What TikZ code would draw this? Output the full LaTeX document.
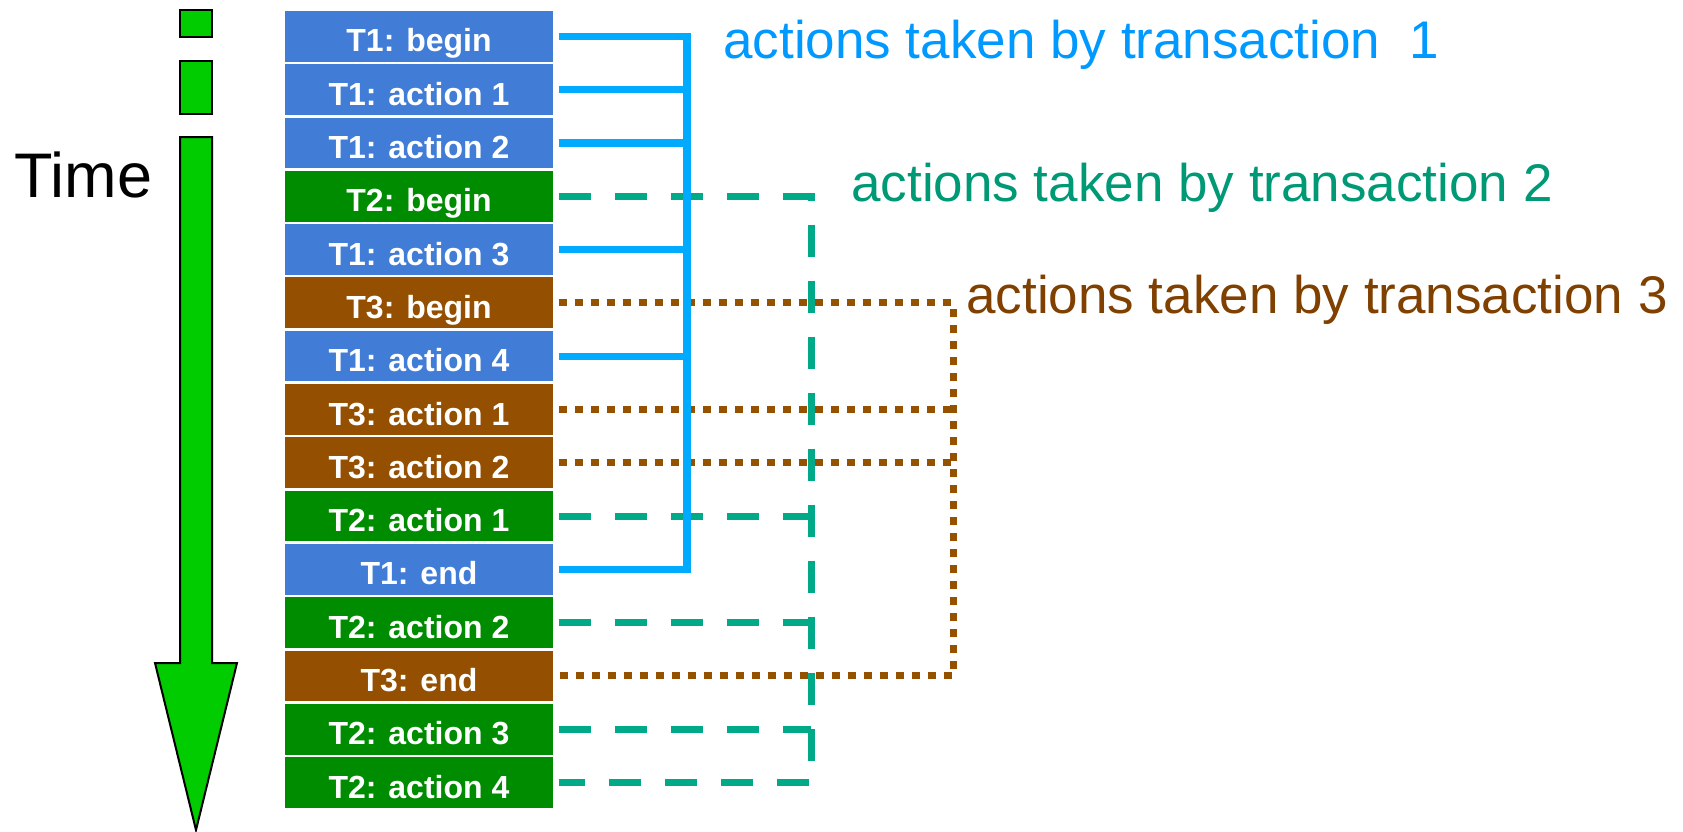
\documentclass[tikz,border=0pt]{standalone}
\usepackage{fontspec}
\setmainfont{Liberation Sans}
\usepackage{xcolor}
\usepackage{tikz}
\usetikzlibrary{calc, positioning}

\definecolor{BoxBlue}{HTML}{417CD6}
\definecolor{BoxGreen}{HTML}{008C00}
\definecolor{BoxBrown}{HTML}{945000}
\definecolor{LineBlue}{HTML}{00AAFF}
\definecolor{LineTeal}{HTML}{00AA88}
\definecolor{LineBrown}{HTML}{945200}
\definecolor{TextBlue}{HTML}{0099FF}
\definecolor{TextTeal}{HTML}{009975}
\definecolor{TextBrown}{HTML}{804000}
\definecolor{TimeGreen}{HTML}{00CC00}

\tikzset{
    actbox/.style={minimum width=134pt, minimum height=25.35pt, inner sep=0pt,
        text height=20.5pt, text depth=4.85pt,
        text=white, font=\fontsize{16}{19}\selectfont\bfseries},
    tonebox/.style={actbox, fill=BoxBlue},
    ttwobox/.style={actbox, fill=BoxGreen},
    tthreebox/.style={actbox, fill=BoxBrown},
    tonelink/.style={draw=LineBlue, line width=3.6pt, shorten <=3pt},
    ttwolink/.style={draw=LineTeal, line width=3.5pt, dash pattern=on 16pt off 12pt, shorten <=3pt},
    tthreelink/.style={draw=LineBrown, line width=3.5pt, dash pattern=on 4pt off 4pt, shorten <=3pt},
    grouplabel/.style={anchor=base west, inner sep=0pt, font=\fontsize{26.5}{30}\selectfont},
    timepart/.style={fill=TimeGreen, draw=black, line width=1pt}
}

\begin{document}
\begin{tikzpicture}[x=0.5pt, y=-0.5pt]

    % =================================================================
    % 1. KHUNG HÌNH (1683 x 831 px)
    % =================================================================
    \useasboundingbox (0,0) rectangle (1683,831);

    % =================================================================
    % 2. MŨI TÊN THỜI GIAN
    % =================================================================
    \draw[timepart] (180,10) rectangle (212,37);
    \draw[timepart] (180,61) rectangle (212,114);
    \draw[timepart] (180,137) -- (212,137) -- (212,663) -- (237,663)
        -- (196,830) -- (155,663) -- (180,663) -- cycle;
    \node[anchor=base west, inner sep=0pt, font=\fontsize{31.5}{36}\selectfont]
        (TimeLabel) at (14,197) {Time};

    % =================================================================
    % 3. CÁC Ô HÀNH ĐỘNG
    % =================================================================
    \node[tonebox]   (T1Begin) at (419,36.3)  {T1: begin};
    \node[tonebox]   (T1Act1)  at (419,89.6)  {T1: action 1};
    \node[tonebox]   (T1Act2)  at (419,142.9) {T1: action 2};
    \node[ttwobox]   (T2Begin) at (419,196.2) {T2: begin};
    \node[tonebox]   (T1Act3)  at (419,249.5) {T1: action 3};
    \node[tthreebox] (T3Begin) at (419,302.8) {T3: begin};
    \node[tonebox]   (T1Act4)  at (419,356.1) {T1: action 4};
    \node[tthreebox] (T3Act1)  at (419,409.4) {T3: action 1};
    \node[tthreebox] (T3Act2)  at (419,462.7) {T3: action 2};
    \node[ttwobox]   (T2Act1)  at (419,516.0) {T2: action 1};
    \node[tonebox]   (T1End)   at (419,569.3) {T1: end};
    \node[ttwobox]   (T2Act2)  at (419,622.6) {T2: action 2};
    \node[tthreebox] (T3End)   at (419,675.9) {T3: end};
    \node[ttwobox]   (T2Act3)  at (419,729.2) {T2: action 3};
    \node[ttwobox]   (T2Act4)  at (419,782.5) {T2: action 4};

    % =================================================================
    % 4. ĐƯỜNG NỐI CÁC GIAO DỊCH
    % =================================================================
    \coordinate (SpineOne) at (687,0);
    \coordinate (SpineTwo) at (811,0);
    \coordinate (SpineThree) at (953,0);

    % Giao dịch 3 (nét chấm)
    \draw[tthreelink, shorten >=3pt] (T3Begin.east) -- (T3Begin.east -| SpineThree)
        -- (T3End.east -| SpineThree) -- (T3End.east);
    \draw[tthreelink] (T3Act1.east) -- (T3Act1.east -| SpineThree);
    \draw[tthreelink] (T3Act2.east) -- (T3Act2.east -| SpineThree);

    % Giao dịch 2 (nét đứt)
    \draw[ttwolink, shorten >=3pt] (T2Begin.east) -- (T2Begin.east -| SpineTwo)
        -- (T2Act4.east -| SpineTwo) -- (T2Act4.east);
    \draw[ttwolink] (T2Act1.east) -- (T2Act1.east -| SpineTwo);
    \draw[ttwolink] (T2Act2.east) -- (T2Act2.east -| SpineTwo);
    \draw[ttwolink] (T2Act3.east) -- (T2Act3.east -| SpineTwo);

    % Giao dịch 1 (nét liền)
    \draw[tonelink, shorten >=3pt] (T1Begin.east) -- (T1Begin.east -| SpineOne)
        -- (T1End.east -| SpineOne) -- (T1End.east);
    \draw[tonelink] (T1Act1.east) -- (T1Act1.east -| SpineOne);
    \draw[tonelink] (T1Act2.east) -- (T1Act2.east -| SpineOne);
    \draw[tonelink] (T1Act3.east) -- (T1Act3.east -| SpineOne);
    \draw[tonelink] (T1Act4.east) -- (T1Act4.east -| SpineOne);

    % =================================================================
    % 5. NHÃN CÁC GIAO DỊCH
    % =================================================================
    \node[grouplabel, text=TextBlue]  (LabelOne)   at (723,58)  {actions taken by transaction\ \ 1};
    \node[grouplabel, text=TextTeal]  (LabelTwo)   at (851,201) {actions taken by transaction 2};
    \node[grouplabel, text=TextBrown] (LabelThree) at (966,313) {actions taken by transaction 3};

\end{tikzpicture}
\end{document}
